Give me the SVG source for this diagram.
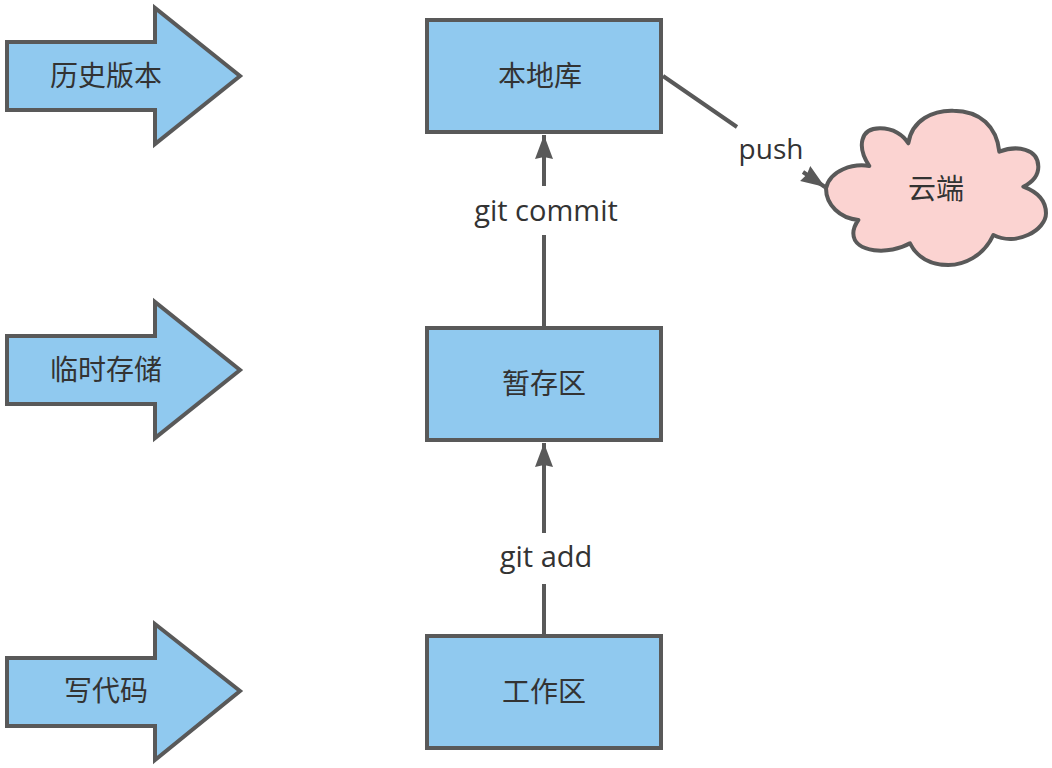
<svg xmlns="http://www.w3.org/2000/svg" width="1052" height="768" viewBox="0 0 1052 768">
  <style>
    .shape { fill: #90c9ef; stroke: #595959; stroke-width: 4; stroke-linejoin: miter; }
    .cloud { fill: #fbd3d1; stroke: #595959; stroke-width: 12; stroke-linejoin: round; }
    .conn { fill: none; stroke: #595959; stroke-width: 4; }
    text { font-family: "Noto Sans CJK SC", "Noto Sans", sans-serif; font-size: 28px; fill: #333; text-anchor: middle; }
    .latin { font-family: "Open Sans", "Noto Sans", sans-serif; font-size: 29px; }
    .push { font-size: 28px; }
  </style>
  <defs>
    <marker id="head" markerUnits="userSpaceOnUse" markerWidth="26" markerHeight="20" refX="24" refY="10" orient="auto">
      <path d="M24 10 L0 1 L2 10 L0 19 Z" fill="#595959"/>
    </marker>
  </defs>
  <g id="connectors">
    <path class="conn" d="M544 328 V235 M544 186 V135" marker-end="url(#head)"/>
    <path class="conn" d="M544 636 V584 M544 533 V443" marker-end="url(#head)"/>
    <path class="conn" d="M663 76 L737 127 M803 172 L825 187" marker-end="url(#head)"/>
  </g>
  <g id="arrow-history">
    <path class="shape" d="M7 42 H155 V8 L240 76 L155 144 V110 H7 Z"/>
    <text x="106" y="86">历史版本</text>
  </g>
  <g id="arrow-temp">
    <path class="shape" d="M7 336 H155 V302 L240 370 L155 438 V404 H7 Z"/>
    <text x="106" y="380">临时存储</text>
  </g>
  <g id="arrow-code">
    <path class="shape" d="M7 658 H155 V624 L240 691 L155 760 V726 H7 Z"/>
    <text x="106" y="701">写代码</text>
  </g>
  <g id="repo">
    <rect class="shape" x="427" y="20" width="234" height="112"/>
    <text x="540" y="86">本地库</text>
  </g>
  <g id="stage">
    <rect class="shape" x="427" y="328" width="234" height="112"/>
    <text x="544" y="394">暂存区</text>
  </g>
  <g id="work">
    <rect class="shape" x="427" y="636" width="234" height="112"/>
    <text x="544" y="702">工作区</text>
  </g>
  <g id="cloud">
    <path class="cloud" transform="translate(640 60) scale(.33333)" d="M558 385 C570 330 640 310 688 318 C650 260 660 205 720 205 C760 205 790 225 805 250 C815 180 880 150 940 152 C1020 152 1070 200 1078 275 C1130 255 1195 265 1195 320 C1195 350 1170 370 1150 380 C1190 395 1218 420 1218 460 C1218 510 1130 560 1060 525 C1030 590 970 615 925 615 C870 615 830 590 810 550 C750 585 640 580 640 520 C640 505 648 490 655 480 C600 475 558 435 558 385 Z"/>
    <text x="936" y="199">云端</text>
  </g>
  <g id="labels">
    <text class="latin" x="546" y="221">git commit</text>
    <text class="latin" x="546" y="567">git add</text>
    <text class="latin push" x="771" y="159">push</text>
  </g>
</svg>
